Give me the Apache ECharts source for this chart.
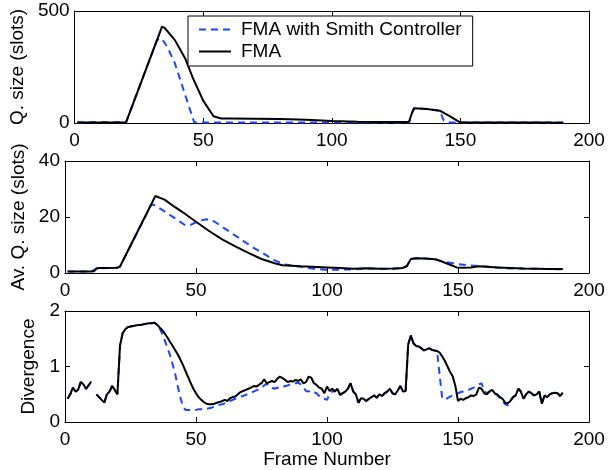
<!DOCTYPE html>
<html>
<head>
<meta charset="utf-8">
<script src="https://cdn.jsdelivr.net/npm/echarts@6/dist/echarts.min.js"></script>
<style>
  html, body { margin: 0; padding: 0; background: #fff; }
  #chart { width: 608px; height: 470px; }
</style>
</head>
<body>
<div id="chart"></div>
<script>
// Q. size (slots) - top panel
var qFmaFrames = [1, 10, 20, 34, 35, 39, 43, 46, 50, 54, 57, 60, 70, 80, 90, 100, 110, 120, 130, 131, 132, 137, 142, 146, 150, 160, 170, 180, 190];
var qFma = [2, 2, 3, 430, 425, 370, 288, 200, 100, 30, 20, 20, 19, 18, 15, 9, 6, 4, 4, 40, 66, 62, 55, 30, 2, 2, 2, 2, 1];
var qSmithFrames = [1, 10, 20, 32, 33, 34, 36, 39, 43, 46.5, 50, 60, 100, 130, 131, 132, 137, 142, 143.5, 145, 160, 190];
var qSmith = [3, 4, 3, 369, 378, 376, 340, 266, 125, 3, 2, 2, 2, 2, 40, 66, 62, 55, 12, 2, 2, 2];

// Av. Q. size (slots) - middle panel
var avFmaFrames = [1, 10, 11, 12, 13, 20, 21, 34.5, 38, 42, 46, 50, 55, 60, 65, 70, 75, 80, 83, 90, 100, 105, 110, 115, 120, 125, 129, 130.5, 132, 134, 138, 142, 146, 149.5, 152, 155, 158, 165, 170, 175, 180, 185, 190];
var avFma = [0.5, 0.5, 0.6, 1.6, 1.8, 1.9, 2.3, 27.5, 26.2, 23.5, 21, 18.3, 15, 12, 9.5, 7.2, 5, 3.5, 2.8, 2.4, 2.0, 1.8, 1.5, 1.7, 1.5, 1.6, 1.8, 2.5, 5.0, 5.3, 5.2, 4.8, 3.3, 2.0, 1.9, 2.0, 2.4, 2.0, 1.8, 1.6, 1.5, 1.4, 1.4];
var avSmithFrames = [1, 10, 12, 20, 21, 33, 34, 38, 42, 46, 48, 51, 54, 57, 60, 64, 68, 72, 76, 80, 84, 90, 95, 100, 105, 110, 115, 120, 125, 129, 130.5, 132, 134, 138, 142, 146, 150, 154, 158, 165, 170, 180, 190];
var avSmith = [0.5, 0.5, 1.6, 1.9, 2.3, 24.5, 24.3, 22, 19.5, 17, 17.2, 18.6, 19.2, 18.4, 16.5, 14, 11.5, 9, 6.8, 4.5, 3.0, 2.2, 1.5, 1.1, 1.2, 1.3, 1.6, 1.5, 1.4, 1.8, 2.5, 5, 5.3, 5.1, 4.6, 3.8, 3.2, 2.7, 2.5, 2.0, 1.6, 1.5, 1.3];

// Divergence - bottom panel, one value per frame 1..190 (null = gap)
var divFma = [
  0.42, 0.50, 0.62, 0.55, 0.58, 0.72, 0.68, 0.60, 0.66, 0.73,
  null, 0.50, 0.45, 0.40, 0.35, 0.50, 0.55, 0.65, 0.58, 0.50,
  1.38, 1.60, 1.67, 1.71, 1.72, 1.73, 1.74, 1.75, 1.75, 1.76,
  1.77, 1.78, 1.78, 1.79, 1.76, 1.71, 1.66, 1.60, 1.53, 1.45,
  1.38, 1.30, 1.22, 1.13, 1.03, 0.92, 0.81, 0.70, 0.60, 0.52,
  0.45, 0.40, 0.36, 0.33, 0.32, 0.32, 0.33, 0.35, 0.36, 0.38,
  0.40, 0.38, 0.43, 0.45, 0.46, 0.50, 0.54, 0.56, 0.58, 0.60,
  0.62, 0.65, 0.64, 0.67, 0.70, 0.77, 0.70, 0.72, 0.74, 0.72,
  0.78, 0.82, 0.79, 0.76, 0.72, 0.74, 0.73, 0.76, 0.74, 0.77,
  0.70, 0.72, 0.82, 0.80, 0.70, 0.67, 0.62, 0.60, 0.52, 0.64,
  0.56, 0.60, 0.55, 0.60, 0.49, 0.52, 0.55, 0.60, 0.70, 0.55,
  0.50, 0.35, 0.43, 0.42, 0.38, 0.42, 0.45, 0.48, 0.44, 0.50,
  0.47, 0.52, 0.55, 0.60, 0.52, 0.50, 0.57, 0.65, 0.55, 0.56,
  1.40, 1.56, 1.42, 1.37, 1.36, 1.33, 1.29, 1.31, 1.33, 1.30,
  1.29, 1.28, 1.25, 1.18, 1.10, 1.00, 0.90, 0.82, 0.65, 0.38,
  0.42, 0.40, 0.43, 0.45, 0.48, 0.47, 0.50, 0.62, 0.60, 0.52,
  0.50, 0.55, 0.58, 0.52, 0.50, 0.45, 0.42, 0.35, 0.34, 0.38,
  0.45, 0.48, 0.60, 0.55, 0.42, 0.50, 0.55, 0.52, 0.48, 0.50,
  0.55, 0.33, 0.48, 0.45, 0.50, 0.52, 0.53, 0.52, 0.47, 0.53
];
var divSmith = [
  0.42, 0.50, 0.62, 0.55, 0.58, 0.72, 0.68, 0.60, 0.66, 0.73,
  null, 0.50, 0.45, 0.40, 0.35, 0.50, 0.55, 0.65, 0.58, 0.50,
  1.38, 1.60, 1.67, 1.71, 1.72, 1.73, 1.74, 1.75, 1.75, 1.76,
  1.77, 1.78, 1.78, 1.79, 1.76, 1.70, 1.60, 1.48, 1.35, 1.22,
  1.05, 0.88, 0.65, 0.45, 0.28, 0.22, 0.22, 0.22, 0.22, 0.22,
  0.23, 0.23, 0.23, 0.24, 0.25, 0.26, 0.28, 0.30, 0.31, 0.32,
  0.34, 0.36, 0.38, 0.40, 0.42, 0.44, 0.46, 0.47, 0.49, 0.51,
  0.53, 0.55, 0.57, 0.59, 0.62, 0.66, 0.69, 0.64, 0.62, 0.60,
  0.62, 0.61, 0.63, 0.65, 0.66, 0.68, 0.69, 0.70, 0.71, 0.68,
  0.62, 0.56, 0.55, 0.57, 0.54, 0.52, 0.47, 0.43, 0.42, 0.40,
  0.50, 0.55, 0.56, 0.60, 0.49, 0.52, 0.55, 0.60, 0.70, 0.55,
  0.50, 0.35, 0.43, 0.42, 0.38, 0.42, 0.45, 0.48, 0.44, 0.50,
  0.47, 0.52, 0.55, 0.60, 0.52, 0.50, 0.57, 0.65, 0.55, 0.56,
  1.40, 1.56, 1.42, 1.37, 1.36, 1.33, 1.29, 1.31, 1.33, 1.30,
  1.29, 1.28, 0.85, 0.42, 0.41, 0.43, 0.46, 0.48, 0.50, 0.52,
  0.54, 0.55, 0.57, 0.58, 0.60, 0.62, 0.65, 0.68, 0.70, 0.55,
  0.52, 0.55, 0.55, 0.52, 0.48, 0.44, 0.38, 0.32, 0.30, 0.38,
  0.45, 0.48, 0.60, 0.55, 0.42, 0.50, 0.55, 0.52, 0.48, 0.50,
  0.55, 0.33, 0.48, 0.45, 0.50, 0.52, 0.53, 0.52, 0.47, 0.53
];

var yNames = ['Q. size (slots)', 'Av. Q. size (slots)', 'Divergence'];
var yMax = [500, 40, 2];
var yStep = [500, 20, 1];

var FONT = 'Liberation Sans, Arial, Helvetica, sans-serif';
var BLUE = '#1e46ff';

function pairs(xs, ys) {
  return xs.map(function (x, i) { return [x, ys[i] == null ? '-' : ys[i]]; });
}
function perFrame(ys) {
  return ys.map(function (y, i) { return [i + 1, y == null ? '-' : y]; });
}

var myChart = echarts.init(document.getElementById('chart'), null, { renderer: 'canvas' });

var tops = [11, 161, 311];
var grids = [], xAxes = [], yAxes = [];
var nameGaps = [35, 25, 24];
var edge = { show: true, onZero: false, lineStyle: { color: '#000', width: 1 } };
var tick = { show: true, inside: true, length: 5, lineStyle: { color: '#000' } };
for (var g = 0; g < 3; g++) {
  grids.push({ left: 65, right: 19, top: tops[g], height: 112 });
  // bottom axis with labels
  xAxes.push({
    type: 'value', gridIndex: g, min: 0, max: 200, interval: 50, position: 'bottom',
    name: g === 2 ? 'Frame Number' : '',
    nameLocation: 'middle', nameGap: 26,
    nameTextStyle: { color: '#000', fontSize: 19, fontFamily: FONT },
    axisLine: edge, axisTick: tick,
    axisLabel: { color: '#000', fontSize: 19, fontFamily: FONT, margin: 8 },
    splitLine: { show: false }
  });
  // top edge, ticks only
  xAxes.push({
    type: 'value', gridIndex: g, min: 0, max: 200, interval: 50, position: 'top',
    axisLine: edge, axisTick: tick,
    axisLabel: { show: false },
    splitLine: { show: false }
  });
  yAxes.push({
    type: 'value', gridIndex: g, min: 0, max: yMax[g], interval: yStep[g], position: 'left',
    name: yNames[g], nameLocation: 'middle', nameGap: nameGaps[g],
    nameTextStyle: { color: '#000', fontSize: 19, fontFamily: FONT },
    axisLine: edge, axisTick: tick,
    axisLabel: { color: '#000', fontSize: 19, fontFamily: FONT, margin: 5 },
    splitLine: { show: false }
  });
  // right edge, ticks only
  yAxes.push({
    type: 'value', gridIndex: g, min: 0, max: yMax[g], interval: yStep[g], position: 'right',
    axisLine: edge, axisTick: tick,
    axisLabel: { show: false },
    splitLine: { show: false }
  });
}

function line(name, g, data, dashed) {
  return {
    name: name, type: 'line', xAxisIndex: g * 2, yAxisIndex: g * 2,
    data: data, symbol: 'none', showSymbol: false, smooth: false, connectNulls: false,
    animation: false,
    lineStyle: dashed ? { color: BLUE, width: 2, type: [7, 5] } : { color: '#000', width: 2 },
    itemStyle: { color: dashed ? BLUE : '#000' },
    z: dashed ? 2 : 3
  };
}

var option = {
  animation: false,
  backgroundColor: '#fff',
  grid: grids,
  xAxis: xAxes,
  yAxis: yAxes,
  legend: {
    data: ['FMA with Smith Controller', 'FMA'],
    orient: 'vertical',
    left: 188, top: 16,
    padding: [4, 11, 5, 10],
    itemGap: 3,
    itemWidth: 32, itemHeight: 14,
    backgroundColor: '#fff',
    borderColor: '#000', borderWidth: 1, borderRadius: 0,
    itemStyle: { opacity: 0 },
    textStyle: { color: '#000', fontSize: 19, fontFamily: FONT, padding: [0, 0, 0, 5] }
  },
  series: [
    line('FMA with Smith Controller', 0, pairs(qSmithFrames, qSmith), true),
    line('FMA', 0, pairs(qFmaFrames, qFma), false),
    line('FMA with Smith Controller', 1, pairs(avSmithFrames, avSmith), true),
    line('FMA', 1, pairs(avFmaFrames, avFma), false),
    line('FMA with Smith Controller', 2, perFrame(divSmith), true),
    line('FMA', 2, perFrame(divFma), false)
  ]
};
myChart.setOption(option);
window.addEventListener('resize', function () {
  if (myChart) {
    myChart.resize();
  }
});
</script>
</body>
</html>
